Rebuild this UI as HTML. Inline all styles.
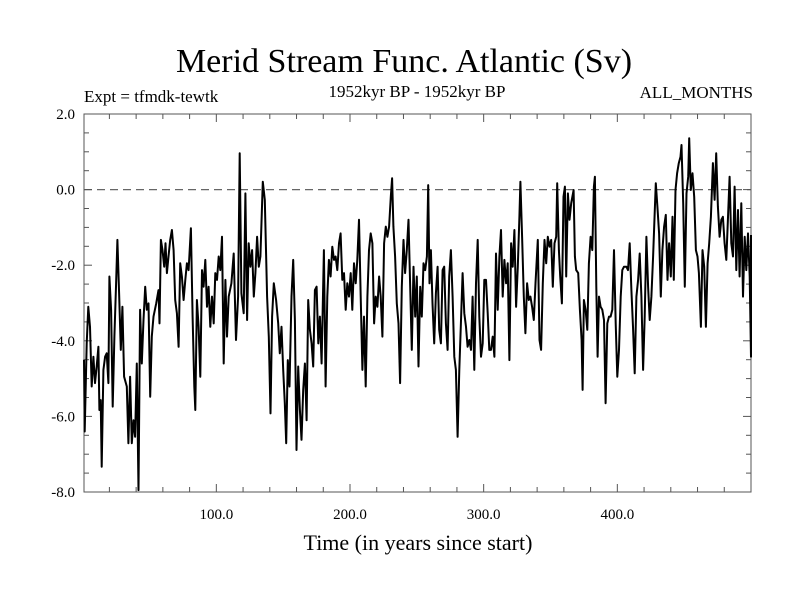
<!DOCTYPE html>
<html><head><meta charset="utf-8"><style>
html,body{margin:0;padding:0;background:#fff;}
svg{display:block;font-family:"Liberation Serif",serif;}
</style></head><body>
<svg id="chart" width="800" height="600" viewBox="0 0 800 600" xmlns="http://www.w3.org/2000/svg">
<rect width="800" height="600" fill="#fff"/>
<text x="404" y="72" font-size="34" text-anchor="middle">Merid Stream Func. Atlantic (Sv)</text>
<text x="84" y="102" font-size="17">Expt = tfmdk-tewtk</text>
<text x="417" y="97" font-size="17" text-anchor="middle">1952kyr BP - 1952kyr BP</text>
<text x="753" y="98" font-size="17" text-anchor="end">ALL_MONTHS</text>
<text x="418" y="550" font-size="22" text-anchor="middle">Time (in years since start)</text>
<g id="axes"></g>
<g id="series"></g>
</svg>
<script>
const years = [1,1.5,3,4.25,5.5,6.75,8,9.25,10.5,11.75,12.5,13.5,14.25,15.5,16.75,18,19.25,20,21.25,22.5,23.75,25,26,27.25,28.5,29.75,31,33,34.25,35.5,36.75,38,39.25,40.5,41.75,43,44.25,45.5,46.75,48,49.25,50.5,51.75,53,55,56.75,57.5,58.5,59.75,61,62,63,64.25,65.5,66.75,68,69.25,70.5,71.75,73,74.25,75.5,76.75,78,79.25,81,82.25,83.5,84.25,85.5,86.75,88,89.25,90.5,91.75,93,94.25,95.5,96.75,98,99.25,100.5,101.75,
103,104.25,105.5,106.75,108,109.25,111.25,113,114.75,116.25,117.5,118.75,120.5,121.75,123,124.25,125.5,126.75,128,129.25,130.5,131.75,133,134.75,136.25,138,139.25,140.5,141.75,143,144.75,146.25,147.5,148.75,150,151.25,152.25,153.5,154.75,156.25,157.5,158.75,160,161.25,162.5,163.75,165,166.25,167.5,168.75,170,171.25,172.5,173.75,175,176.25,177.5,178.75,180.5,181.75,183,184.25,185.5,186.75,188,189.25,190.5,191.75,193,194.25,195.5,196.75,198,199.25,200.5,201.75,203,
204.25,205.5,206.75,208,209.25,210.5,211.75,213,214.25,215.5,216.75,218,219.25,220.5,221.75,223,224.25,225.5,226.75,228,229.25,230.5,231.5,232.5,233.75,235,236.25,237.5,238.75,240,241.25,242.5,243.75,245,246.25,247.5,248.75,250,251.25,252.5,253.75,255,256.25,257.5,258.5,259.5,260.5,261.75,263,264.25,265.5,266.75,268,269.25,270.5,271.75,273,274.25,275.5,276.75,278,279.25,280.5,281.75,283,284.25,285.5,286.75,288,289.25,290.5,291.75,293,294.25,295.5,296.75,298,299.25,300.5,301.75,303,304.25,
305.5,306.75,308,309.25,310.5,311.75,313,314.25,315.5,316.75,318,319.25,320.5,321.75,323,324.25,325.5,326.75,327.5,328.75,330,331.25,332.5,333.75,335,336.25,337.5,338.75,340.5,341.75,343,344.25,345.5,346.75,348,349.25,350.5,351.75,353,354.25,355,356.25,357.25,358.5,359.75,360.75,361.75,363,364.25,365.5,367.25,368.25,369.25,370.75,372,373.25,374,375,376.25,377.5,378.75,380,381.25,382.5,383.25,384.25,385.25,386.25,387.5,388.75,390,391.25,392.5,393.75,395,396.25,397.5,398.75,400,401.25,402.5,403.75,405,
406.75,408,409.25,410.5,411.75,413,414.25,415.5,416.75,418,419.25,420.5,421.75,423,424.25,425.5,426.75,428,428.75,430,431.25,432.5,433.75,435,436.25,437.5,438.75,440,441.25,442.25,443.5,444.75,446,447.25,448,449.25,450.5,451.75,453,453.75,455,456.25,457.5,458.75,460,461,462.5,463.75,465,466.25,467.5,468.75,470,471.5,472.75,474,475.25,476.5,477.75,479,480.25,481.5,482.75,484,485.25,486.5,487.75,489,490.25,491.5,492.75,494,495.25,496.5,497.75,499,500,500];
const values = [-4.5,-6.4,-4.07,-3.10,-3.63,-5.21,-4.42,-5.12,-4.68,-4.16,-5.83,-5.57,-7.33,-4.77,-4.42,-4.33,-5.12,-2.30,-3.18,-5.74,-3.89,-2.48,-1.33,-2.74,-4.24,-3.10,-4.95,-5.21,-6.71,-4.95,-6.71,-6.10,-6.54,-4.60,-7.95,-3.18,-4.60,-3.45,-2.57,-3.18,-3.01,-5.48,-3.89,-3.36,-3.01,-2.66,-3.54,-1.33,-1.60,-2.04,-1.42,-2.21,-1.77,-1.33,-1.07,-1.60,-2.92,-3.27,-4.16,-1.95,-2.30,-2.92,-2.39,-1.95,-2.13,-1.02,-3.36,-5.21,-5.83,-2.92,-3.63,-4.95,-2.13,-2.57,-1.86,-3.10,-2.57,-3.63,-2.83,-3.54,-2.21,-2.39,-1.77,
-2.13,-1.25,-4.60,-2.39,-3.89,-2.83,-2.48,-1.69,-3.98,-2.83,0.96,-2.74,-3.27,-0.10,-3.45,-1.42,-2.04,-1.60,-2.83,-2.21,-1.25,-2.04,-1.77,0.21,-0.27,-2.83,-3.89,-5.92,-3.36,-2.48,-2.92,-3.54,-4.33,-3.63,-4.77,-5.65,-6.71,-4.51,-5.21,-2.83,-1.86,-3.45,-6.89,-4.68,-5.83,-6.62,-5.30,-4.60,-6.10,-2.92,-3.71,-4.07,-4.68,-2.66,-2.57,-4.07,-3.36,-4.60,-1.60,-5.21,-2.83,-1.86,-2.30,-1.51,-1.86,-1.77,-2.13,-1.42,-1.16,-2.39,-2.21,-3.18,-2.48,-2.83,-2.21,-3.18,-1.95,
-2.48,-1.86,-0.80,-2.83,-4.77,-3.36,-5.21,-2.83,-1.60,-1.16,-1.42,-3.54,-2.83,-3.10,-2.30,-2.83,-3.89,-1.42,-0.98,-1.25,-0.98,-0.19,0.30,-0.98,-1.77,-3.01,-3.54,-5.12,-2.57,-1.33,-2.21,-1.60,-0.80,-2.48,-4.24,-2.04,-3.36,-2.30,-4.68,-2.57,-3.36,-1.95,-2.13,-1.77,0.12,-2.48,-1.60,-3.01,-4.07,-2.74,-2.04,-3.71,-4.07,-2.13,-2.04,-3.54,-4.24,-2.30,-1.60,-2.83,-4.42,-4.77,-6.54,-4.77,-3.54,-2.21,-3.27,-3.63,-4.16,-3.98,-4.24,-2.83,-4.77,-2.48,-1.33,-3.36,-4.42,-4.07,-2.39,-2.39,-3.27,-4.24,
-4.24,-3.89,-4.42,-1.69,-3.18,-1.77,-1.07,-2.83,-1.86,-2.48,-1.95,-4.51,-1.42,-2.04,-1.07,-3.10,-2.04,-0.72,0.21,-1.25,-2.83,-3.80,-2.48,-2.92,-2.83,-3.10,-3.45,-2.48,-1.33,-3.98,-4.24,-2.48,-1.33,-1.95,-1.25,-1.51,-1.33,-2.57,-1.42,-1.25,0.17,-1.60,-2.30,-3.01,-0.19,0.08,-2.30,-0.10,-0.80,-0.36,-0.01,-1.77,-2.13,-2.21,-3.18,-3.98,-5.30,-2.92,-3.18,-3.71,-1.95,-1.25,-1.60,0.08,0.34,-2.57,-4.42,-2.83,-3.10,-3.18,-3.45,-5.65,-3.54,-3.36,-3.36,-3.18,-1.60,-3.54,-4.95,-4.24,-2.83,-2.13,-2.04,
-2.04,-2.13,-1.42,-2.66,-3.63,-4.86,-2.83,-2.39,-1.69,-2.83,-4.77,-3.36,-1.25,-2.57,-3.45,-2.83,-1.77,-0.54,0.17,-0.45,-1.16,-2.83,-1.60,-0.98,-0.67,-2.39,-1.42,-2.30,-0.72,-2.39,-0.01,0.43,0.70,0.87,1.18,-0.36,-2.57,-0.10,0.34,1.36,-0.01,0.43,-0.19,-1.60,-1.77,-2.21,-3.63,-1.60,-2.04,-3.63,-1.95,-1.42,-0.72,0.70,-0.27,0.96,-0.45,-1.25,-0.80,-0.72,-1.42,-1.86,-0.80,0.34,-1.42,-1.77,0.08,-2.13,-0.54,-2.30,-0.36,-2.83,-1.25,-2.13,-1.16,-2.30,-4.42,-1.2];
const yTickValues = [2.0,0.0,-2.0,-4.0,-6.0,-8.0];
const yTickLabels = ["2.0","0.0","-2.0","-4.0","-6.0","-8.0"];
const xTickValues = [100,200,300,400];
const xTickLabels = ["100.0","200.0","300.0","400.0"];

const L=84,R=751,T=114,B=492,XMIN=1,XMAX=500,YMIN=-8,YMAX=2;
const sx=v=>L+(v-XMIN)/(XMAX-XMIN)*(R-L);
const sy=v=>B-(v-YMIN)/(YMAX-YMIN)*(B-T);
const NS="http://www.w3.org/2000/svg";
const axes=document.getElementById('axes');
const series=document.getElementById('series');
function mk(tag,attrs,parent){const e=document.createElementNS(NS,tag);for(const k in attrs)e.setAttribute(k,attrs[k]);parent.appendChild(e);return e;}

const zl=mk('line',{x1:L,x2:R,y1:sy(0),y2:sy(0),stroke:'#666','stroke-width':1.3,'stroke-dasharray':'8,5'},axes);



const frame=mk('rect',{x:L,y:T,width:R-L,height:B-T,fill:'none',stroke:'#555','stroke-width':1},axes);



for(let v=YMIN;v<=YMAX+1e-9;v+=0.5){
  const y=sy(v);const major=Math.abs(v/2-Math.round(v/2))<1e-6;const len=major?8:5;
  mk('line',{x1:L,x2:L+len,y1:y,y2:y,stroke:'#555','stroke-width':1},axes);
  mk('line',{x1:R,x2:R-len,y1:y,y2:y,stroke:'#555','stroke-width':1},axes);
}
for(let v=0;v<=XMAX;v+=20){
  if(v<XMIN)continue;
  const x=sx(v);const major=v%100===0;const len=major?8:5;
  mk('line',{x1:x,x2:x,y1:B,y2:B-len,stroke:'#555','stroke-width':1},axes);
  mk('line',{x1:x,x2:x,y1:T,y2:T+len,stroke:'#555','stroke-width':1},axes);
}
yTickValues.forEach((v,i)=>{
  const t=mk('text',{x:L-9,y:sy(v)+5,'font-size':15,'text-anchor':'end'},axes);
  t.textContent=yTickLabels[i];
  
  
});
xTickValues.forEach((v,i)=>{
  const t=mk('text',{x:sx(v),y:B+27,'font-size':15,'text-anchor':'middle'},axes);
  t.textContent=xTickLabels[i];
  
  
});
const d=years.map((yr,i)=>(i?'L':'M')+sx(yr).toFixed(1)+','+sy(values[i]).toFixed(1)).join('');
const path=mk('path',{d:d,fill:'none',stroke:'#000','stroke-width':2,'stroke-linejoin':'round'},series);


</script>
</body></html>
